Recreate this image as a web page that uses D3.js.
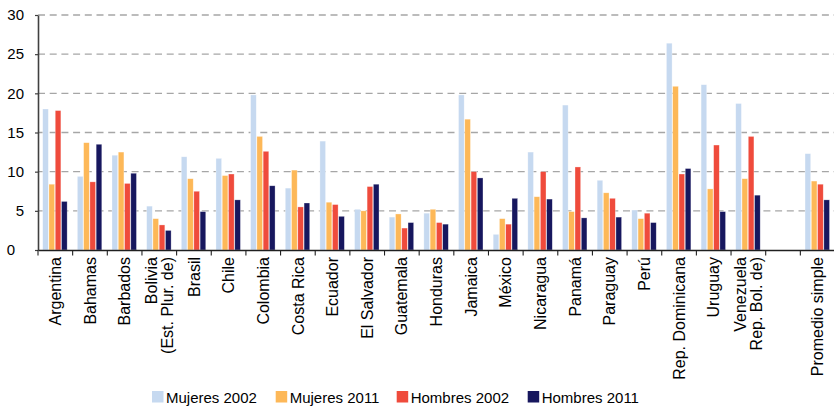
<!DOCTYPE html>
<html><head><meta charset="utf-8">
<script src="https://cdn.jsdelivr.net/npm/d3@7"></script>
<style>
html,body{margin:0;padding:0;background:#fff;}
svg{display:block;font-family:"Liberation Sans",Arial,sans-serif;}
</style></head>
<body><svg id="c" width="834" height="407"></svg>
<script>
const categories = ["Argentina","Bahamas","Barbados","Bolivia\n(Est. Plur. de)","Brasil","Chile","Colombia","Costa Rica","Ecuador","El Salvador","Guatemala","Honduras","Jamaica","México","Nicaragua","Panamá","Paraguay","Perú","Rep. Dominicana","Uruguay","Venezuela\nRep. Bol. de)","","Promedio simple"];
const seriesNames = ["Mujeres 2002","Mujeres 2011","Hombres 2002","Hombres 2011"];
const mujeres2002 = [18.0,9.4,12.1,5.6,11.9,11.7,19.8,7.9,13.9,5.2,4.2,4.7,19.8,2.0,12.5,18.5,8.9,5.1,26.4,21.1,18.7,null,12.3];
const mujeres2011 = [8.4,13.7,12.5,4.0,9.1,9.5,14.5,10.2,6.1,5.0,4.6,5.2,16.7,4.0,6.8,4.9,7.3,4.0,20.9,7.8,9.1,null,8.8];
const hombres2002 = [17.8,8.7,8.5,3.2,7.5,9.7,12.6,5.5,5.8,8.1,2.8,3.5,10.0,3.3,10.0,10.6,6.6,4.7,9.7,13.4,14.5,null,8.4];
const hombres2011 = [6.2,13.5,9.8,2.5,4.9,6.4,8.2,6.0,4.3,8.4,3.5,3.3,9.2,6.6,6.5,4.1,4.2,3.5,10.4,4.9,7.0,null,6.4];
const yTicks = [0,5,10,15,20,25,30];
const colors = ["#c6d9f0","#fdb858","#ef4b3c","#17175e"];

(function(){
const svg = d3.select("#c");
const mL = 38, mR = 835, mT = 15, mB = 250;
const seriesData = [mujeres2002, mujeres2011, hombres2002, hombres2011];
const idx = categories.map((c,i)=>i);

const x0 = d3.scaleBand().domain(idx).range([mL, mR]).paddingInner(0).paddingOuter(0);
const x1 = d3.scaleBand().domain(d3.range(4)).range([4.7, x0.bandwidth()-5.5]).paddingInner(0.1);
const y = d3.scaleLinear().domain([0,30]).range([mB, mT]);

// grid
svg.append("g").selectAll("line").data(yTicks.filter(d=>d>0)).join("line")
  .attr("x1", mL).attr("x2", mR)
  .attr("y1", d=>y(d)).attr("y2", d=>y(d))
  .attr("stroke","#a6a6a6").attr("stroke-width",1.3).attr("stroke-dasharray","7,4.7");

// bars
const g = svg.append("g");
seriesData.forEach((arr, s) => {
  g.append("g").selectAll("rect").data(arr.map((v,i)=>({v,i})).filter(d=>d.v!=null)).join("rect")
    .attr("x", d=>x0(d.i)+x1(s))
    .attr("width", x1.bandwidth())
    .attr("y", d=>y(d.v))
    .attr("height", d=>mB - y(d.v))
    .attr("fill", colors[s])
    .attr("stroke","#ffffff").attr("stroke-opacity",0.5).attr("stroke-width",0.6);
});

// y axis
const yAxis = d3.axisLeft(y).tickValues(yTicks).tickSize(3).tickPadding(11).tickSizeOuter(0);
const ya = svg.append("g").attr("transform",`translate(${mL},0)`).call(yAxis);
ya.select(".domain").attr("stroke","#404040").attr("stroke-width",1.6);
ya.selectAll(".tick line").attr("stroke","#404040").attr("stroke-width",1.2);
ya.selectAll(".tick text").attr("font-size",15).attr("fill","#000").attr("font-family","'Liberation Sans',Arial,sans-serif");
ya.selectAll(".tick text").filter(d=>d===0).attr("x",-23);

// x axis
const xAxis = d3.axisBottom(x0).tickValues([]).tickSizeOuter(0);
const xa = svg.append("g").attr("transform",`translate(0,${mB})`).call(xAxis);
xa.select(".domain").attr("stroke","#202020").attr("stroke-width",1.4);
const bounds = d3.range(categories.length+1).map(i=> mL + i*x0.step());
xa.selectAll(".bt").data(bounds).join("line").attr("class","bt")
  .attr("x1",d=>d).attr("x2",d=>d).attr("y1",0).attr("y2",5.5)
  .attr("stroke","#202020").attr("stroke-width",1.1);

// x labels
const lh = 16.5;
const lab = svg.append("g");
categories.forEach((c,i)=>{
  if(!c) return;
  const lines = c.split("\n");
  const cx = x0(i) + x0.bandwidth()/2;
  const t = lab.append("text")
    .attr("transform",`translate(${cx},257) rotate(-90)`)
    .attr("text-anchor","end").attr("font-size",16).attr("fill","#000");
  lines.forEach((ln,k)=>{
    t.append("tspan").attr("x",0)
     .attr("dy", k===0 ? (0.35*16 - (lines.length-1)*lh/2) : lh)
     .text(ln);
  });
});

// legend
const legX = [152, 275.7, 396.7, 527.7];
const leg = svg.append("g");
seriesNames.forEach((n,i)=>{
  leg.append("rect").attr("x",legX[i]).attr("y",391).attr("width",11.5).attr("height",11.5).attr("fill",colors[i]);
  leg.append("text").attr("x",legX[i]+14).attr("y",403).attr("font-size",15).attr("fill","#000").text(n);
});
})();
</script></body></html>
